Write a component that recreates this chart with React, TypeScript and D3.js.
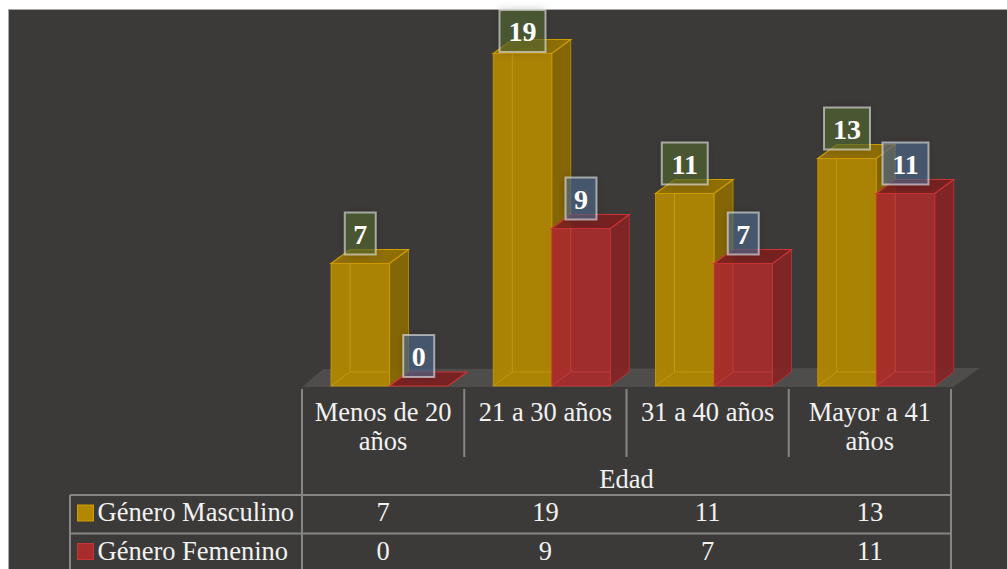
import React from "react";
import * as d3 from "d3";

const categories = ["Menos de 20 años", "21 a 30 años", "31 a 40 años", "Mayor a 41 años"];
const categoryLines = [["Menos de 20", "años"], ["21 a 30 años"], ["31 a 40 años"], ["Mayor a 41", "años"]];
const seriesNames = ["Género Masculino", "Género Femenino"];
const masculino = [7, 19, 11, 13];
const femenino = [0, 9, 7, 11];
const axisTitle = "Edad";

const W = 1007;
const H = 569;
const FONT = "'Liberation Serif', 'Times New Roman', serif";

const seriesStyle = [
  { front: "#b38800", side: "#8c6a00", top: "#977300", edge: "#cf9e00", hidden: "rgba(225,180,30,0.45)", label: "rgba(84,103,51,0.62)", key: "#b38800" },
  { front: "#a82c2c", side: "#862424", top: "#7c2020", edge: "#cc3333", hidden: "rgba(225,80,80,0.4)", label: "rgba(77,105,139,0.62)", key: "#a82c2c" },
];

export default function App() {
  const series = [masculino, femenino];
  const x = d3.scaleBand<string>().domain(categories).range([302, 951]).paddingInner(0).paddingOuter(0);
  const xs = d3.scaleBand<string>().domain(seriesNames).range([29, 146]).paddingInner(0).paddingOuter(0);
  const y = d3.scaleLinear().domain([0, 20]).range([386, 36]);
  const dx = 19;
  const dy = -14;
  const base = y(0);

  const bars: any[] = [];
  categories.forEach((c, ci) => {
    seriesNames.forEach((s, si) => {
      const v = series[si][ci];
      const x0 = (x(c) as number) + (xs(s) as number);
      const w = xs.bandwidth();
      bars.push({ c, s, si, v, x0, w, top: y(v) });
    });
  });

  const floorLeft = x.range()[0];
  const floorRight = x.range()[1] + 2;
  const floorY = base + 1;

  const lineColor = "#858585";
  const colEdges = [...categories.map((c) => x(c) as number), x.range()[1]];

  return (
    <svg width={W} height={H} style={{ position: "absolute", left: 0, top: 0 }} xmlns="http://www.w3.org/2000/svg">
      <defs>
        <filter id="halo" x="-50%" y="-50%" width="200%" height="200%">
          <feDropShadow dx="0" dy="0" stdDeviation="4" floodColor="#000" floodOpacity="0.35" />
        </filter>
      </defs>
      <rect x={0} y={0} width={W} height={H} fill="#ffffff" />
      <rect x={8.5} y={9.5} width={W + 10} height={H + 10} fill="#3b3a38" stroke="#a8a8a8" strokeWidth={1} />

      {/* floor */}
      <polygon
        points={`${floorLeft},${floorY} ${floorRight},${floorY} ${floorRight + 27},${floorY - 19} ${floorLeft + 21},${floorY - 18}`}
        fill="#4f4d4c"
      />

      {/* bars */}
      {bars.map((b, i) => {
        const st = seriesStyle[b.si];
        const { x0, w, top } = b;
        const h = base - top;
        return (
          <g key={i}>
            {h > 0.5 && (
              <polygon
                points={`${x0 + w},${top} ${x0 + w + dx},${top + dy} ${x0 + w + dx},${base + dy} ${x0 + w},${base}`}
                fill={st.side}
                fillOpacity={0.92}
                stroke={st.edge}
                strokeWidth={1}
                strokeOpacity={0.7}
              />
            )}
            <polygon
              points={`${x0},${top} ${x0 + dx},${top + dy} ${x0 + w + dx},${top + dy} ${x0 + w},${top}`}
              fill={st.top}
              fillOpacity={0.92}
              stroke={st.edge}
              strokeWidth={1.2}
            />
            {h > 0.5 && (
              <rect x={x0} y={top} width={w} height={h} fill={st.front} fillOpacity={0.93} stroke={st.edge} strokeWidth={1} strokeOpacity={0.8} />
            )}
            {h > 0.5 && (
              <g>
                <line x1={x0 + dx} y1={top} x2={x0 + dx} y2={base + dy} stroke={st.hidden} strokeWidth={1} />
                <line x1={x0 + dx} y1={base + dy} x2={x0 + w} y2={base + dy} stroke={st.hidden} strokeWidth={1} />
                <line x1={x0} y1={base} x2={x0 + dx} y2={base + dy} stroke={st.hidden} strokeWidth={1} />
              </g>
            )}
          </g>
        );
      })}

      {/* data labels */}
      {bars.map((b, i) => {
        const st = seriesStyle[b.si];
        const txt = String(b.v);
        const bw = 16 + 15 * txt.length;
        const bh = 42;
        const cx = b.x0 + b.w / 2;
        let by = b.top - 9 - bh;
        if (by < 10) by = 10;
        return (
          <g key={"l" + i}>
            <rect x={cx - bw / 2} y={by} width={bw} height={bh} fill={st.label} filter="url(#halo)" />
            <rect x={cx - bw / 2} y={by} width={bw} height={bh} fill="none" stroke="rgba(235,235,235,0.6)" strokeWidth={2} />
            <text x={cx} y={by + 31} textAnchor="middle" fontFamily={FONT} fontWeight="bold" fontSize={28} fill="#ffffff">
              {txt}
            </text>
          </g>
        );
      })}

      {/* data table lines */}
      <g stroke={lineColor} strokeWidth={2}>
        {colEdges.map((cx, i) => {
          const outer = i === 0 || i === colEdges.length - 1;
          return <line key={"v" + i} x1={cx} y1={389} x2={cx} y2={outer ? H + 5 : 457} />;
        })}
        <line x1={70} y1={495} x2={colEdges[colEdges.length - 1]} y2={495} />
        <line x1={70} y1={533.5} x2={colEdges[colEdges.length - 1]} y2={533.5} />
        <line x1={70} y1={572} x2={colEdges[colEdges.length - 1]} y2={572} />
        <line x1={70} y1={495} x2={70} y2={H + 5} />
      </g>

      {/* category labels */}
      {categories.map((c, ci) => (
        <text key={"c" + ci} x={(x(c) as number) + x.bandwidth() / 2} y={421} textAnchor="middle" fontFamily={FONT} fontSize={26.5} fill="#f2f2f2">
          {categoryLines[ci].map((ln, li) => (
            <tspan key={li} x={(x(c) as number) + x.bandwidth() / 2} dy={li === 0 ? 0 : 29}>
              {ln}
            </tspan>
          ))}
        </text>
      ))}

      <text x={(x.range()[0] + x.range()[1]) / 2} y={488} textAnchor="middle" fontFamily={FONT} fontSize={26.5} fill="#f2f2f2">
        {axisTitle}
      </text>

      {/* legend rows */}
      {seriesNames.map((s, si) => {
        const rowBase = si === 0 ? 521 : 559.5;
        return (
          <g key={"r" + si}>
            <rect x={77.5} y={rowBase - 16} width={16} height={16} fill={seriesStyle[si].key} stroke={seriesStyle[si].edge} strokeWidth={1} />
            <text x={97.5} y={rowBase} fontFamily={FONT} fontSize={26.5} fill="#f2f2f2">
              {s}
            </text>
            {categories.map((c, ci) => (
              <text key={ci} x={(x(c) as number) + x.bandwidth() / 2} y={rowBase} textAnchor="middle" fontFamily={FONT} fontSize={26.5} fill="#f2f2f2">
                {series[si][ci]}
              </text>
            ))}
          </g>
        );
      })}
    </svg>
  );
}
